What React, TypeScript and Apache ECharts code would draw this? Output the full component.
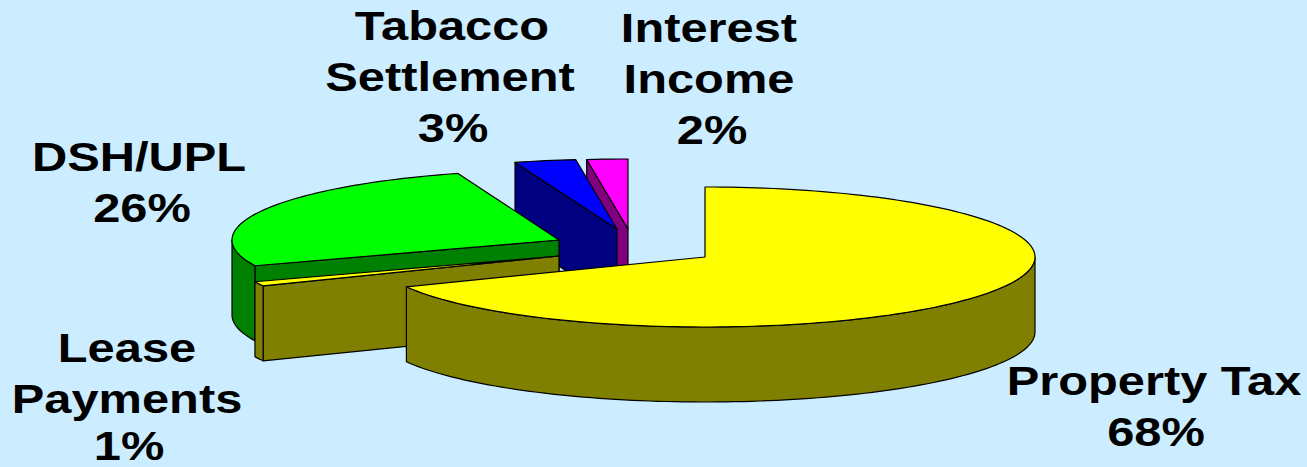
import React, { useEffect, useRef } from "react";
import * as echarts from "echarts";

// Data, clockwise from 12 o'clock
const categories = ["Property Tax", "Lease\nPayments", "DSH/UPL", "Tabacco\nSettlement", "Interest\nIncome"];
const shares = [68, 1, 26, 3, 2];

// Colours per slice: top face, side face
const topColors = ["#FFFF00", "#FFFF00", "#00FF00", "#0000FF", "#FF00FF"];
const sideColors = ["#808000", "#808000", "#008000", "#000080", "#800080"];

// Layout of the exploded slices (tip position and width of each slice) and label line centres
const tips = [[705, 257], [559, 256], [559, 240], [617, 229], [628, 229]];
const radiiX = [330, 327, 327, 330, 330];
const labelLineX = [[1154, 1156], [127, 127, 129], [139, 142], [452, 450, 453], [709, 709, 712]];
const labelLineY = [[381.5, 432.5], [348, 399, 446.5], [157.5, 208.5], [26, 77, 128], [28, 79, 130]];
const RY = 70;
const DEPTH = 75;
const BG = "#CCECFF";

const rad = (d: number) => (d * Math.PI) / 180;

function arcPoints(cx: number, cy: number, rx: number, a: number, b: number) {
  const pts: number[][] = [];
  const n = Math.max(2, Math.ceil((b - a) / 1.5));
  for (let i = 0; i <= n; i++) {
    const t = rad(a + ((b - a) * i) / n);
    pts.push([cx + rx * Math.sin(t), cy - RY * Math.cos(t)]);
  }
  return pts;
}

function sliceChildren(idx: number, startDeg: number, endDeg: number) {
  const [cx, cy] = tips[idx];
  const rx = radiiX[idx];
  const side = sideColors[idx];
  const edge = { stroke: "#000", lineWidth: 1.2, lineJoin: "round" };
  const children: any[] = [];
  const face = (deg: number) => {
    const t = rad(deg);
    const px = cx + rx * Math.sin(t);
    const py = cy - RY * Math.cos(t);
    return {
      type: "polygon",
      shape: { points: [[cx, cy], [px, py], [px, py + DEPTH], [cx, cy + DEPTH]] },
      style: { fill: side, ...edge },
    };
  };
  if (Math.sin(rad(endDeg)) > 1e-6) children.push(face(endDeg));
  if (Math.sin(rad(startDeg)) < -1e-6) children.push(face(startDeg));
  const from = Math.max(startDeg, 90);
  const to = Math.min(endDeg, 270);
  if (to > from) {
    const upper = arcPoints(cx, cy, rx, from, to);
    const lower = upper.map(([x, y]) => [x, y + DEPTH]).reverse();
    children.push({
      type: "polygon",
      shape: { points: [...upper, ...lower] },
      style: { fill: side, ...edge },
    });
  }
  children.push({
    type: "polygon",
    shape: { points: [[cx, cy], ...arcPoints(cx, cy, rx, startDeg, endDeg)] },
    style: { fill: topColors[idx], ...edge },
  });
  const lines = [...categories[idx].split("\n"), `${shares[idx]}%`];
  lines.forEach((line, l) => {
    children.push({
      type: "text",
      x: labelLineX[idx][l],
      y: labelLineY[idx][l],
      scaleX: 1.22,
      style: {
        text: line,
        fontFamily: "Liberation Sans",
        fontWeight: "bold",
        fontSize: 40,
        lineHeight: 34,
        fill: "#000",
        align: "center",
        verticalAlign: "middle",
      },
    });
  });
  return children;
}

export default function App() {
  const ref = useRef<HTMLDivElement>(null);
  useEffect(() => {
    document.body.style.margin = "0";
    const chart = echarts.init(ref.current!, undefined, { renderer: "svg" });
    const total = shares.reduce((s, v) => s + v, 0);
    const starts: number[] = [];
    let acc = 0;
    shares.forEach((v) => {
      starts.push((acc / total) * 360);
      acc += v;
    });
    // Painter's order: back slices first
    const drawOrder = shares.map((v, i) => ({ value: [i, v], name: categories[i] })).reverse();
    chart.setOption({
      animation: false,
      backgroundColor: BG,
      series: [
        {
          type: "custom",
          coordinateSystem: "none",
          silent: true,
          data: drawOrder,
          renderItem: (_params: any, api: any) => {
            const i = api.value(0) as number;
            const v = api.value(1) as number;
            const start = starts[i];
            return {
              type: "group",
              children: sliceChildren(i, start, start + (v / total) * 360),
            };
          },
        },
      ],
    });
    return () => chart.dispose();
  }, []);
  return <div ref={ref} style={{ width: 1307, height: 467, position: "absolute", left: 0, top: 0 }} />;
}
